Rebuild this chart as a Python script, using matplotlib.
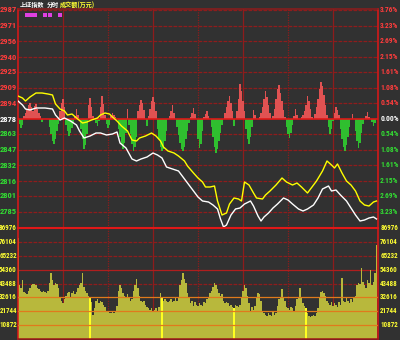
import matplotlib
matplotlib.use('Agg')
import matplotlib.pyplot as plt
from matplotlib import font_manager as fm
import numpy as np

# ---------------------------------------------------------------------------
# data (minute index 0..239)
# ---------------------------------------------------------------------------
base = 2878
price_ticks = [2987, 2971, 2956, 2940, 2925, 2909, 2894, 2878,
               2863, 2847, 2832, 2816, 2801, 2785]
pct_labels = ['3.76%', '3.23%', '2.69%', '2.15%', '1.61%', '1.08%', '0.54%', '0.00%',
              '0.54%', '1.08%', '1.61%', '2.15%', '2.69%', '3.23%']
vol_ticks = [86976, 76104, 65232, 54360, 43488, 32616, 21744, 10872]

# index (white)
white_min = [0, 3, 5, 8, 12, 18, 23, 25, 28, 31, 35, 39, 41, 44, 48, 52, 55, 59, 63, 66,
             68, 72, 76, 79, 82, 86, 90, 93, 96, 99, 103, 107, 110, 113, 117, 120, 123, 127,
             130, 133, 135, 137, 139, 142, 145, 148, 151, 155, 157, 160, 162, 164, 167, 170,
             173, 177, 180, 183, 187, 190, 193, 197, 200, 203, 207, 209, 212, 215, 219, 222,
             225, 228, 231, 234, 237, 239]
white_val = [2896, 2892, 2888, 2887, 2889, 2889, 2888, 2882, 2877, 2879, 2876, 2872, 2866,
             2859, 2861, 2864, 2864, 2862, 2863, 2865, 2854, 2849, 2838, 2836, 2838, 2840,
             2844, 2842, 2839, 2830, 2828, 2826, 2820, 2814, 2806, 2800, 2796, 2795, 2792,
             2788, 2778, 2770, 2772, 2782, 2788, 2789, 2793, 2796, 2791, 2781, 2776, 2780,
             2784, 2789, 2793, 2799, 2797, 2793, 2788, 2786, 2788, 2792, 2799, 2808, 2811,
             2806, 2807, 2802, 2796, 2789, 2782, 2776, 2777, 2779, 2780, 2778]

# unweighted index (yellow)
yellow_min = [0, 3, 5, 8, 12, 16, 20, 23, 25, 28, 31, 33, 36, 39, 43, 46, 49, 53, 55, 58,
              61, 63, 66, 69, 73, 76, 79, 81, 85, 89, 92, 95, 97, 100, 104, 107, 111, 113,
              117, 120, 123, 125, 128, 131, 133, 136, 139, 141, 144, 147, 149, 151, 154, 157,
              159, 163, 165, 168, 172, 176, 179, 183, 186, 189, 193, 196, 199, 203, 206, 209,
              211, 213, 216, 219, 222, 225, 228, 231, 234, 237, 239]
yellow_val = [2901, 2899, 2896, 2900, 2904, 2904, 2903, 2902, 2893, 2888, 2886, 2882, 2883,
              2879, 2874, 2875, 2877, 2879, 2882, 2884, 2883, 2880, 2876, 2871, 2866, 2857,
              2856, 2859, 2861, 2864, 2861, 2856, 2850, 2846, 2844, 2841, 2836, 2831, 2824,
              2819, 2815, 2810, 2810, 2811, 2796, 2782, 2784, 2793, 2799, 2798, 2796, 2815,
              2812, 2804, 2799, 2798, 2802, 2806, 2812, 2819, 2815, 2812, 2814, 2810, 2804,
              2810, 2816, 2826, 2836, 2832, 2829, 2833, 2824, 2816, 2812, 2806, 2796, 2792,
              2791, 2795, 2796]

# red / green breadth bars (points above / below prev close)
breadth = [
    0, -5, -9, -6, 3, 6, 10, 14, 16, 12, 8, 13, 15, 10, 6, 3, -3, 0, 0, 0,
    0, -8, -15, -22, -25, -20, -12, -5, 8, 16, 20, 12, -6, -12, -17, -14, -9, -4, 3, 10,
    4, 0, -10, -20, -30, -26, -15, 14, 21, 12, 3, 0, -4, -7, -2, 12, 23, 15, 4, -5,
    -9, -6, 3, 6, 4, 2, 0, -10, -18, -26, -30, -24, -14, 10, -6, -15, -25, -32, -28, -18,
    8, 14, 19, 16, 9, 0, -7, 3, 10, 18, 22, 17, 8, -10, -20, -28, -32, -30, -22, -12,
    0, 3, 8, 14, 6, 0, -8, -16, -24, -30, -32, -28, -20, -12, -4, 2, 6, 11, 5, 0,
    -20, -29, -25, -12, 2, 5, 8, 3, 0, -8, -18, -28, -34, -30, -22, -14, -6, 0, 6, 12,
    18, 23, 16, 8, -7, 0, 8, 20, 35, 28, 18, 8, -10, -20, -25, -18, -8, 9, 4, 0,
    0, 2, 6, 12, 20, 28, 22, 14, 6, 0, 3, 10, 20, 30, 34, 26, 18, 9, 2, -8,
    -15, -19, -14, -6, 3, 10, 4, 0, 0, 2, 4, 8, 14, 23, 18, 10, 2, 0, 5, 12,
    20, 30, 37, 33, 24, 14, 4, -8, -15, -10, -2, 6, 12, 9, 4, -10, -20, -28, -32, -26,
    -18, -8, 0, 5, 0, -12, -22, -29, -24, -14, -5, 0, 3, 7, 2, 0, -3, -7, -4, 0,
]

# turnover per minute
volume = [
    79000, 42000, 40000, 46000, 37000, 36000, 35000, 38000, 40000, 42000,
    43000, 43000, 42000, 40000, 39000, 38000, 37000, 38000, 37000, 36000,
    38000, 44000, 52000, 46000, 42000, 44000, 43000, 40000, 32000, 30000,
    28000, 31000, 34000, 36000, 37000, 33000, 36000, 38000, 35000, 37000,
    40000, 42000, 44000, 52000, 41000, 38000, 36000, 34000, 32000, 29000,
    19000, 24000, 30000, 31000, 28000, 30000, 29000, 27000, 25000, 22000,
    21000, 20000, 20500, 21000, 20000, 22000, 26000, 38000, 42000, 40000,
    36000, 34000, 33000, 35000, 32000, 30000, 31000, 38000, 42000, 47000,
    40000, 34000, 30000, 29000, 30000, 27000, 25000, 24000, 23000, 24000,
    22000, 23000, 24000, 22000, 25000, 36000, 32000, 30000, 31000, 30000,
    29000, 30000, 31000, 29000, 30000, 32000, 30000, 33000, 42000, 46000,
    52000, 47000, 44000, 36000, 32000, 28000, 30000, 26000, 29000, 27000,
    26000, 28000, 27000, 26000, 29000, 28000, 31000, 33000, 36000, 38000,
    41000, 44000, 42000, 39000, 36000, 34000, 35000, 30000, 28000, 29000,
    28000, 26000, 27000, 25000, 24500, 27000, 26000, 25000, 27000, 32000,
    38000, 42000, 40000, 34000, 28000, 22000, 25000, 23000, 26000, 33000,
    36000, 35000, 30000, 22000, 20000, 19000, 18000, 20000, 19000, 18000,
    21000, 19000, 20000, 26000, 31000, 33000, 39000, 32000, 30000, 25000,
    24000, 23000, 25000, 24000, 22000, 26000, 31000, 33000, 40000, 32000,
    28000, 26000, 24500, 20000, 18000, 17000, 18000, 19000, 18000, 20000,
    24000, 33000, 37000, 38000, 36000, 34000, 30000, 28000, 27000, 29000,
    26000, 28000, 27000, 25000, 29000, 27000, 48000, 30000, 29000, 32000,
    30000, 28000, 31000, 29000, 32000, 34000, 42000, 44000, 43000, 56000,
    45000, 42000, 40000, 46000, 44000, 54000, 42000, 45000, 52000, 73500,
]
hilite_min = [48, 96, 144, 192]          # bright yellow volume bars
event_min = [6, 7, 8, 9, 10, 11, 18, 21, 28]  # magenta markers at the top
event_level = 2982

# ---------------------------------------------------------------------------
bg = '#313131'
red = '#ff3c3c'
green = '#33dd33'
ylw = '#ffff33'
grid_red = '#8e1c1c'
line_red = '#e01818'

# narrow font for the axis numbers if one is around
have = {f.name for f in fm.fontManager.ttflist}
if 'Liberation Sans Narrow' in have:
    num_font, k = 'Liberation Sans Narrow', 1.22
elif 'Roboto Condensed' in have:
    num_font, k = 'Roboto Condensed', 1.15
else:
    num_font, k = 'Liberation Sans', 1.0
fs_price = 5.3 * k
fs_pct = 4.7 * k
fs_vol = 4.4 * k
cjk = ['Noto Sans CJK SC', 'DejaVu Sans']

fig = plt.figure(figsize=(4, 3.4), dpi=100, facecolor=bg)
ax = fig.add_axes([18 / 400, 1 - 228 / 340, 360 / 400, 219 / 340], facecolor=bg)
axv = fig.add_axes([18 / 400, 1 / 340, 360 / 400, 111 / 340], facecolor=bg)

minutes = np.arange(len(volume))

# ---- price panel ----
for v in price_ticks:
    if v == base:
        continue
    ax.axhline(v, color=grid_red, lw=0.9, ls=(0, (3, 1)), zorder=1)
for m in [30, 90, 150, 210]:
    ax.axvline(m, color=grid_red, lw=0.9, zorder=1)
    axv.axvline(m, color=grid_red, lw=0.9, zorder=1)
for m in [60, 120, 180]:
    ax.axvline(m, color=grid_red, lw=0.9, ls=(0, (1, 1)), zorder=1)
    axv.axvline(m, color=grid_red, lw=0.9, ls=(0, (1, 1)), zorder=1)

b = np.array(breadth)
cols = [('#e05252' if v >= 0 else '#2fbf2f') for v in b]
ax.bar(minutes, b, bottom=base, width=0.8, color=cols, lw=0, zorder=2)
ax.axhline(base, color=line_red, lw=1.2, zorder=3)

ax.plot(yellow_min, yellow_val, color='#ffff00', lw=1.0, zorder=4)
ax.plot(white_min, white_val, color='white', lw=1.0, zorder=5)
ax.plot(event_min, [event_level] * len(event_min), ls='none', marker='s',
        ms=2.2, mew=0, color='#e040e0', zorder=5)

ax.set_xlim(0, 240)
ax.set_ylim(2769, 2988)

ytr = ax.get_yaxis_transform()
for v, p in zip(price_ticks, pct_labels):
    c = red if v > base else ('white' if v == base else green)
    ax.text(-0.003, v, str(v), transform=ytr, ha='right', va='center', family=num_font,
            color=c, fontsize=fs_price, fontweight='bold', clip_on=False)
    ax.text(1.006, v, p, transform=ytr, ha='left', va='center', family=num_font,
            color=c, fontsize=fs_pct, fontweight='bold', clip_on=False)

# title strip
fig.text(20 / 400, 1 - 5 / 340, '上证指数', color='white', fontsize=4.4,
         family=cjk, fontweight='bold', va='center', ha='left')
fig.text(47 / 400, 1 - 5 / 340, '分时', color='white', fontsize=4.4,
         family=cjk, fontweight='bold', va='center', ha='left')
fig.text(60 / 400, 1 - 5 / 340, '成交额(万元)', color=ylw, fontsize=4.4,
         family=cjk, fontweight='bold', va='center', ha='left')

# ---- volume panel ----
vcols = [('#ffff20' if i in hilite_min else '#b8b83c') for i in minutes]
axv.bar(minutes, volume, width=0.75, color=vcols, lw=0, zorder=2)
for v in vol_ticks[1:]:
    if v <= 32616:
        axv.axhline(v, color='#e07a1c', lw=0.9, zorder=3)
    elif v == 54360:
        axv.axhline(v, color='#b01e1e', lw=0.9, zorder=1)
    else:
        axv.axhline(v, color=grid_red, lw=0.9, ls=(0, (3, 1)), zorder=1)
axv.set_xlim(0, 240)
axv.set_ylim(0, 86976)

vtr = axv.get_yaxis_transform()
for v in vol_ticks:
    axv.text(-0.003, v, str(v), transform=vtr, ha='right', va='center', family=num_font,
             color=ylw, fontsize=fs_vol, fontweight='bold', clip_on=False)
    axv.text(1.006, v, str(v), transform=vtr, ha='left', va='center', family=num_font,
             color=ylw, fontsize=fs_vol, fontweight='bold', clip_on=False)

for a in (ax, axv):
    a.set_xticks([])
    a.set_yticks([])
    for s in a.spines.values():
        s.set_color(line_red)
        s.set_linewidth(1.1)
ax.spines['top'].set_color(grid_red)
axv.spines['bottom'].set_color('#a01818')
axv.spines['top'].set_linewidth(1.5)

fig.savefig('out.png', dpi=100, facecolor=bg)
